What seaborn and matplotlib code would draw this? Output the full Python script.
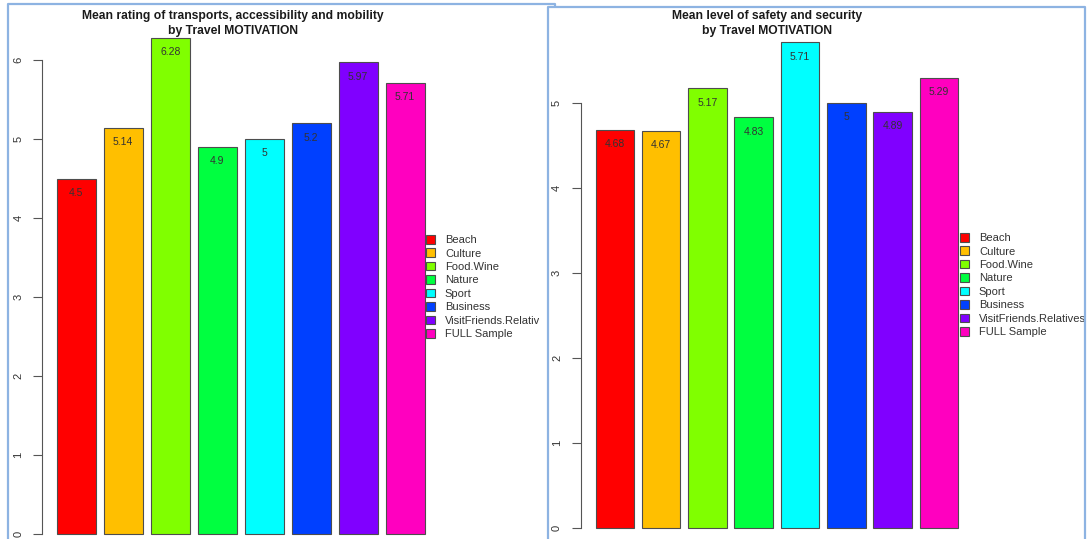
import matplotlib
matplotlib.use("Agg")
import matplotlib.pyplot as plt
import seaborn as sns
from matplotlib.patches import Rectangle

# Datos
motivos = ["Beach", "Culture", "Food.Wine", "Nature", "Sport", "Business",
           "VisitFriends.Relatives", "FULL Sample"]
transporte = [4.5, 5.14, 6.28, 4.9, 5, 5.2, 5.97, 5.71]
seguridad = [4.68, 4.67, 5.17, 4.83, 5.71, 5, 4.89, 5.29]
colores = ["#FF0000", "#FFBF00", "#80FF00", "#00FF40",
           "#00FFFF", "#0040FF", "#8000FF", "#FF00BF"]

sns.set_theme(style="white")
plt.rcParams["font.family"] = ["Liberation Sans", "DejaVu Sans"]

W, H = 1087, 539
fig = plt.figure(figsize=(W / 100, H / 100), dpi=100)


def caja(x0, y0, x1, y1):
    # pixeles desde arriba a la izquierda -> fracciones de figura
    return [x0 / W, 1 - y1 / H, (x1 - x0) / W, (y1 - y0) / H]


def panel(ax, valores, ymax_eje, xlim, ylim, leyenda_xy):
    sns.barplot(x=motivos, y=valores, hue=motivos, palette=colores,
                saturation=1, dodge=False, width=0.833, edgecolor="#4d4d4d",
                linewidth=0.8, legend=True, ax=ax)
    for cont in ax.containers:
        ax.bar_label(cont, fmt="%g", padding=-14, fontsize=7.5, color="#333333")
    for p in ax.patches:
        p.set_clip_on(False)
    ax.set_xlim(*xlim)
    ax.set_ylim(*ylim)
    ax.set_xticks([])
    ax.set_xlabel("")
    ax.set_ylabel("")
    ax.set_yticks(range(ymax_eje + 1))
    sns.despine(ax=ax, bottom=True)
    ax.spines["left"].set_bounds(0, ymax_eje)
    ax.spines["left"].set_color("#555555")
    ax.spines["left"].set_linewidth(0.8)
    ax.tick_params(axis="y", left=True, length=6.5, width=0.8, color="#555555",
                   labelsize=8, labelcolor="#333333", pad=7)
    for lab in ax.get_yticklabels():
        lab.set_rotation(90)
        lab.set_va("center")
    sns.move_legend(ax, "upper left", bbox_to_anchor=leyenda_xy,
                    bbox_transform=fig.transFigure, frameon=False, title=None,
                    fontsize=8, handlelength=0.8, handleheight=0.8,
                    handletextpad=0.9, labelspacing=0.3, borderpad=0,
                    borderaxespad=0)
    for t in ax.get_legend().get_texts():
        t.set_color("#333333")


# Panel izquierdo
ax1 = fig.add_axes(caja(42, 534 - 6.5 * 79, 540, 534))
ax1.set_zorder(0)
panel(ax1, transporte, 6, ((42 - 76.2) / 47, (540 - 76.2) / 47), (0, 6.5),
      (426 / W, 1 - 235 / H))

# tapa lo que sobresale del panel izquierdo
fig.add_artist(Rectangle((539 / W, 0), 1 - 539 / W, 1 - 6 / H,
                         transform=fig.transFigure, facecolor="white",
                         edgecolor="none", zorder=1))

# Panel derecho
ax2 = fig.add_axes(caja(580.7, 527.7 - 6 * 85, 1087, 527.7))
ax2.set_zorder(2)
panel(ax2, seguridad, 5, ((580.7 - 614.85) / 46.3, (1087 - 614.85) / 46.3),
      (0, 6), (960 / W, 1 - 233 / H))

# Titulos
tit = dict(ha="center", va="center", fontsize=8.7, fontweight="bold",
           color="#1a1a1a", zorder=4)
fig.text(233 / W, 1 - 16 / H, "Mean rating of transports, accessibility and mobility", **tit)
fig.text(233 / W, 1 - 31 / H, "by Travel MOTIVATION", **tit)
fig.text(767 / W, 1 - 16 / H, "Mean level of safety and security", **tit)
fig.text(767 / W, 1 - 31 / H, "by Travel MOTIVATION", **tit)

# Marcos azules
borde = "#8DB3E2"
fig.add_artist(plt.Line2D([8 / W, 8 / W, 555 / W, 555 / W],
                          [0, 1 - 4 / H, 1 - 4 / H, 1 - 7 / H],
                          transform=fig.transFigure, color=borde, lw=1.6, zorder=0.5))
fig.add_artist(plt.Line2D([548 / W, 548 / W, 1085 / W, 1085 / W],
                          [0, 1 - 7 / H, 1 - 7 / H, 0],
                          transform=fig.transFigure, color=borde, lw=1.6, zorder=3))

fig.savefig("out.png", dpi=100)
